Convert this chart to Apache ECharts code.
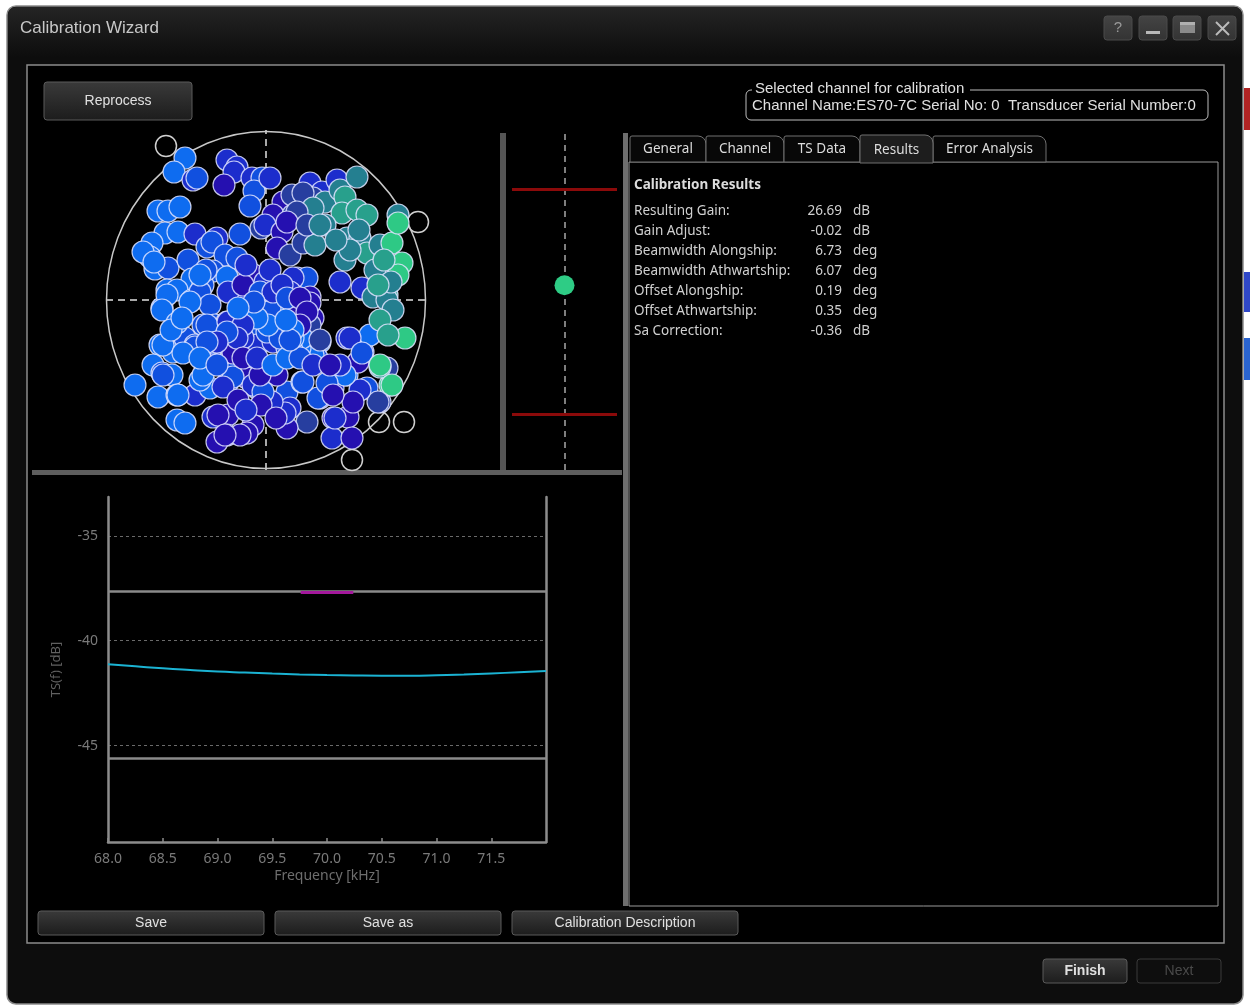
<!DOCTYPE html>
<html><head><meta charset="utf-8">
<script src="https://cdn.jsdelivr.net/npm/echarts/dist/echarts.min.js"></script>
<style>html,body{margin:0;padding:0;background:#fff;}#c{width:1250px;height:1008px;}</style>
</head><body><div id="c"></div>
<script>
// ---------- DATA ----------
// beam-angle offsets of accepted targets [alongship, athwartship, colour class]
const scatterPoints = [
[-81,142,0],[-92,128,0],[-73,120,2],[-69,122,1],[-39,140,2],[-29,133,2],[-32,128,2],[-42,115,3],[-14,122,2],[-4,122,1],[-12,109,1],[-16,94,1],
[-108,89,0],[-98,89,0],[-86,93,0],[-101,67,0],[-114,57,0],[-116,43,0],[-111,31,0],[-98,32,1],[-88,68,0],[-71,66,2],[-49,62,2],[-59,53,1],[-54,58,1],[-41,45,1],[-78,40,1],[-74,21,0],[-53,29,1],[-26,66,1],[-5,72,4],[-14,26,3],[-99,10,0],[-89,10,0],[-63,15,1],[-34,12,2],[-21,0,2],[-1,18,2],[-39,23,0],[1,5,1],[-123,48,0],[-112,38,0],
[-104,-8,0],[-91,-22,0],[-74,0,0],[-66,8,1],[-56,-5,1],[-38,8,2],[-63,-25,1],[-51,-25,1],[-39,-22,2],[-29,-25,1],[-19,-15,0],[-3,-8,1],[7,-12,0],[-6,-32,0],[-14,-35,1],[14,-27,1],[31,22,2],[42,2,3],[47,-18,3],[44,-25,4],
[-106,-45,0],[-93,-52,0],[-81,-38,1],[-71,-45,1],[-56,-52,2],[-33,-55,3],[-43,-42,1],[-9,-45,2],[7,-42,2],[21,-48,1],[31,-45,0],[37,-52,0],[54,-42,0],[51,-58,1],
[-113,-65,0],[-104,-73,1],[-94,-75,0],[-131,-85,0],[-108,-97,0],[-89,-95,0],[-71,-95,2],[-56,-88,0],[-66,-80,0],[-33,-73,1],[-38,-82,2],[-19,-78,3],[-3,-72,3],[-9,-88,1],[7,-102,2],[21,-92,1],[36,-82,0],[24,-108,2],[41,-122,4],[54,-98,2],[67,-88,2],[81,-75,0],
[81,-38,2],[97,-52,2],[104,-35,0],[92,-62,3],[101,-88,1],[114,-102,4],[124,-85,7],[121,-68,4],[114,-67,6],
[-89,-120,0],[-81,-123,0],[-53,-117,2],[-38,-115,3],[-13,-125,3],[-39,-135,3],[-49,-142,3],[-19,-133,3],[21,-128,3],[67,-118,3],[82,-117,3],[66,-138,2],[86,-138,3],
[4,122,2],[17,98,3],[7,85,3],[-1,75,2],[16,68,3],[11,52,3],[24,45,4],[27,85,4],[37,95,4],[44,117,2],[56,108,2],[47,102,4],[59,98,5],[71,120,2],[74,110,5],[91,123,5],[79,103,6],[76,87,6],[91,90,6],[101,85,6],[59,75,5],[37,57,4],[49,55,5],[81,62,5],[94,62,5],[101,47,6],[114,55,5],[126,57,7],[132,85,5],[132,77,7],[136,37,7],[132,25,7],[109,30,5],[79,40,5],[74,18,2],[96,12,2],[121,5,6],[107,3,5],[41,22,1],[27,22,2],[44,3,3],[4,30,2],[24,8,2],[14,12,2],
[121,0,5],[127,-10,5],[114,-20,6],[139,-38,7],[122,-35,6],[84,-38,2],[96,-53,1],[114,-65,7],[126,-85,7],[112,-102,4],[94,-90,2],[79,-75,0],[74,-65,2],[87,-102,3],[69,-118,2],[52,-98,1],[19,-113,2],[6,-102,2],[37,-82,1],[61,-83,1],[47,-55,0],[34,-48,0],[36,-38,0],[54,-40,4],[44,-3,3],[31,-8,3],[4,-8,1],[1,-32,1],[14,-28,2],[27,-52,0],[67,-95,3],[11,-75,3],
[-99,5,0],[-76,-2,0],[-104,-10,0],[-89,-23,0],[-59,-25,1],[-38,-22,2],[-18,-12,2],[-103,-45,0],[-71,-47,1],[-83,-53,0],[-33,-53,3],[-53,-43,1],[-103,-75,1],[-88,-95,0],[-63,-75,0],[-33,-77,1],[-13,-85,2],[-43,-87,2],[-48,-115,3],[-26,-135,3],[-41,-135,3],[-3,-92,1],[-6,-75,3],[-23,-38,2],
[-23,15,3],[-6,8,1],[7,8,2],[16,15,2],[21,2,1],[34,2,3],[41,-12,3],[34,-25,3],[27,-38,0],[14,-38,1],[2,-25,0],[-9,-18,0],[-23,-25,2],[-29,-38,2],[-39,-32,1],[-49,-42,2],[-59,-42,1],[-66,-58,0],[-49,-65,1],[-23,-58,3],[-9,-58,2],[7,-65,0],[21,-58,0],[34,-58,1],[47,-65,2],[64,-65,3],
[26,105,4],[37,107,4],[47,92,5],[31,88,4],[21,78,3],[41,75,4],[54,75,5],[-29,42,1],[-20,35,2],[27,-30,0],[24,-40,1],[20,-20,0],[-95,-30,0],[-84,-18,0],[-60,30,1],[-66,25,0],
[-28,-100,3],[-5,-105,3],[10,-118,3],[-20,-110,2],[118,40,6],[125,18,5],[112,15,6],[84,50,5],[93,70,5],[70,60,5],[-12,-2,1],[-28,-8,0]
];
const rejectedPoints = [[-100,154],[152,78],[113,-122],[138,-122],[86,-160]];
const beamHalf = [159.5, 168.5];
const gainDot = [[0, 0.29]];
const gainLimits = [2, -2];
const freqKHz = [68.0,68.25,68.5,68.75,69.0,69.25,69.5,69.75,70.0,70.25,70.5,70.75,71.0,71.25,71.5,71.75,72.0];
const tsDb    = [-41.12,-41.22,-41.32,-41.40,-41.47,-41.52,-41.57,-41.61,-41.64,-41.66,-41.67,-41.67,-41.65,-41.61,-41.56,-41.51,-41.45];
const tsLimitLines = [-37.66, -45.62];
const pinkFreq = [69.76, 70.24];
const pinkTs = [-37.7, -37.7];
const tabNames = ['General','Channel','TS Data','Results','Error Analysis'];
const resultLabels = ['Resulting Gain:','Gain Adjust:','Beamwidth Alongship:','Beamwidth Athwartship:','Offset Alongship:','Offset Athwartship:','Sa Correction:'];
const resultValues = [26.69,-0.02,6.73,6.07,0.19,0.35,-0.36];
const resultUnits = ['dB','dB','deg','deg','deg','deg','dB'];

// ---------- STYLE ----------
const palette = ['#0e6cf0','#1150df','#1c2dcc','#2510b0','#273e9f','#247f90','#28a08c','#2ec985'];
const UI = '"Liberation Sans", Arial, sans-serif';
const SEG = '"Noto Sans", "Open Sans", sans-serif';
const grad = (a,b)=>({type:'linear',x:0,y:0,x2:0,y2:1,colorStops:[{offset:0,color:a},{offset:1,color:b}]});
function txt(x,y,t,font,fill,align,z){return {type:'text',x:x,y:y,z:z||-1,silent:true,style:{text:t,font:font,fill:fill,align:align||'left',textAlign:align||'left',verticalAlign:'middle',textVerticalAlign:'middle'}};}
function rect(x,y,w,h,fill,stroke,lw,r,z){return {type:'rect',z:z||-4,silent:true,shape:{x:x,y:y,width:w,height:h,r:r||0},style:{fill:fill,stroke:stroke||null,lineWidth:lw||0}};}
function button(x,y,w,h,label,o){o=o||{};return [rect(x,y,w,h,o.fill||grad('#3a3a3a','#1c1c1c'),o.stroke||'#5a5a5a',1,3,-3),
  txt(x+w/2,y+h/2+0.5,label,(o.weight||'normal')+' '+(o.size||14)+'px '+UI,o.color||'#e0e0e0','center',-2)];}

const g = [];
g.push(rect(7,6,1236,998,'#0d0d0d','#8a8a8a',1.5,9,-9));
g.push(rect(8,7,1234,50,grad('#242424','#0d0d0d'),null,0,[8,8,0,0],-8));
g.push(txt(20,28,'Calibration Wizard','17px '+UI,'#c8c8c8','left',-2));
[1104,1139,1173,1208].forEach(x=>g.push(rect(x,16,28,24,grad('#444','#333'),'#4a4a4a',1,3,-3)));
g.push(txt(1118,28,'?','15px '+UI,'#9a9a9a','center',-2));
g.push(rect(1146,31,14,3,'#b8b8b8',null,0,0,-2));
g.push(rect(1180,22,15,11,'#8a8a8a',null,0,0,-2));
g.push(rect(1180,22,15,3,'#b0b0b0',null,0,0,-2));
g.push({type:'line',z:-2,silent:true,shape:{x1:1216,y1:22,x2:1229,y2:35},style:{stroke:'#bbb',lineWidth:2}});
g.push({type:'line',z:-2,silent:true,shape:{x1:1229,y1:22,x2:1216,y2:35},style:{stroke:'#bbb',lineWidth:2}});
// outside desktop bits
g.push(rect(1244,88,6,42,'#b02424',null,0,0,-9));
g.push(rect(1244,272,6,40,'#3048c8',null,0,0,-9));
g.push(rect(1244,338,6,42,'#2a64d0',null,0,0,-9));
// inner panel
g.push(rect(27,65,1197,878,'#000000','#8c8c8c',1.5,0,-7));
g.push(...button(44,82,148,38,'Reprocess'));
// group box
g.push(rect(746,90,462,30,null,'#bdbdbd',1,5,-4));
g.push(rect(752,82,218,14,'#000',null,0,0,-3));
g.push(txt(755,89,'Selected channel for calibration','15px '+UI,'#e0e0e0','left',-2));
g.push(txt(752,106,'Channel Name:ES70-7C Serial No: 0  Transducer Serial Number:0','15px '+UI,'#e0e0e0','left',-2));
// splitters
g.push(rect(32,470,590,5,'#5e5e5e',null,0,0,-3));
g.push(rect(500,133,6,337,'#555555',null,0,0,-3));
g.push(rect(623,133,5,773,'#6e6e6e',null,0,0,-3));
// tabs & content
g.push(rect(629,162,589,744,'#000','#9a9a9a',1,0,-5));
const tabX = [630,706,784,860,933], tabW = [76,78,76,73,113];
tabNames.forEach((t,i)=>{
  const sel = t==='Results';
  g.push(rect(tabX[i],sel?135:136,tabW[i],sel?28:26,sel?'#1d1d1d':'#080808','#707070',1,[2,8,0,0],sel?-3:-4));
  g.push(txt(tabX[i]+tabW[i]/2,sel?150:149,t,'13.5px '+SEG,'#dcdcdc','center',-2));
});
g.push(txt(634,185,'Calibration Results','bold 13.5px '+SEG,'#dcdcdc','left',-2));
resultLabels.forEach((l,i)=>{
  const y = 211+i*20;
  g.push(txt(634,y,l,'13.5px '+SEG,'#d0d0d0','left',-2));
  g.push(txt(842,y,resultValues[i].toFixed(2),'13.5px '+SEG,'#d0d0d0','right',-2));
  g.push(txt(853,y,resultUnits[i],'13.5px '+SEG,'#d0d0d0','left',-2));
});
// bottom buttons
g.push(...button(38,911,226,24,'Save'));
g.push(...button(275,911,226,24,'Save as'));
g.push(...button(512,911,226,24,'Calibration Description'));
g.push(...button(1043,959,84,24,'Finish',{weight:'bold'}));
g.push(...button(1137,959,84,24,'Next',{fill:'#0e0e0e',stroke:'#3a3a3a',color:'#4a4a4a'}));

const axisGray = '#8c8c8c';
const chart = echarts.init(document.getElementById('c'), null, {renderer:'canvas'});
chart.setOption({
  backgroundColor:'#ffffff',
  animation:false,
  graphic:{elements:g},
  grid:[
    {left:106, top:130, width:320, height:340},
    {left:512, top:133, width:105, height:337},
    {left:108, top:497, width:438, height:345}
  ],
  xAxis:[
    {gridIndex:0,type:'value',min:-beamHalf[0]-0.5,max:beamHalf[0]+0.5,show:false},
    {gridIndex:1,type:'value',min:-1,max:1,show:false},
    {gridIndex:2,type:'value',min:68,max:72,interval:0.5,
      axisLine:{lineStyle:{color:axisGray,width:2.5}},
      axisTick:{show:true,inside:true,length:4,lineStyle:{color:axisGray,width:1.5}},
      splitLine:{show:false},
      axisLabel:{color:'#7a7a7a',fontSize:14,fontFamily:'Noto Sans',margin:10,showMaxLabel:false,formatter:v=>v>=71.99?'':v.toFixed(1)},
      name:'Frequency [kHz]',nameLocation:'middle',nameGap:27,nameTextStyle:{color:'#6e6e6e',fontSize:14,fontFamily:'Noto Sans'}}
  ],
  yAxis:[
    {gridIndex:0,type:'value',min:-170,max:170,show:false},
    {gridIndex:1,type:'value',min:-3,max:3,show:false},
    {gridIndex:2,type:'value',min:-49.6,max:-33.15,minInterval:5,maxInterval:5,
      axisLine:{show:true,lineStyle:{color:axisGray,width:2.5}},
      axisTick:{show:false},
      splitLine:{show:true,showMinLine:false,showMaxLine:false,lineStyle:{color:'#6a6a6a',type:[3,3],width:1}},
      axisLabel:{color:'#7a7a7a',fontSize:14,fontFamily:'Noto Sans',margin:10,showMinLabel:false,showMaxLabel:false,
        formatter:v=>Math.abs(v%5)<1e-6?String(v):''},
      name:'TS(f) [dB]',nameLocation:'middle',nameGap:45,nameTextStyle:{color:'#606060',fontSize:13,fontFamily:'Noto Sans'}},
    {gridIndex:2,type:'value',position:'right',min:-49.6,max:-33.15,
      axisLine:{show:true,lineStyle:{color:axisGray,width:2.5}},axisTick:{show:false},axisLabel:{show:false},splitLine:{show:false}}
  ],
  series:[
    {type:'custom',xAxisIndex:0,yAxisIndex:0,z:1,silent:true,
      data:[[0,0,beamHalf[0],beamHalf[1]]],
      renderItem:function(p,api){
        const c = api.coord([api.value(0),api.value(1)]);
        const e = api.coord([api.value(0)+api.value(2),api.value(1)+api.value(3)]);
        const rx = e[0]-c[0], ry = c[1]-e[1];
        return {type:'circle',x:c[0],y:c[1],scaleY:ry/rx,shape:{cx:0,cy:0,r:rx},style:{fill:'none',stroke:'#c8c8c8',lineWidth:1.5}};
      }},
    {type:'scatter',xAxisIndex:0,yAxisIndex:0,z:2,silent:true,symbolSize:21,
      data:rejectedPoints,
      itemStyle:{color:'rgba(0,0,0,0)',borderColor:'#d0d0d0',borderWidth:1.5,opacity:1},
      markLine:{silent:true,z:1,symbol:['none','none'],label:{show:false},
        lineStyle:{color:'#a8a8a8',type:[7,5],width:2},
        data:[{xAxis:0},{yAxis:0}]}},
    {type:'scatter',xAxisIndex:0,yAxisIndex:0,z:3,silent:true,symbolSize:22,
      data:scatterPoints,
      itemStyle:{color:p=>palette[p.value[2]],borderColor:'rgba(225,228,255,0.85)',borderWidth:1.2,opacity:1}},
    {type:'scatter',xAxisIndex:1,yAxisIndex:1,z:3,silent:true,symbolSize:20,
      data:gainDot,itemStyle:{color:'#2ecc85',opacity:1},
      markLine:{silent:true,z:1,symbol:['none','none'],label:{show:false},
        data:[{xAxis:0,lineStyle:{color:'#a8a8a8',type:[6,5],width:1.5}}].concat(
          gainLimits.map(v=>({yAxis:v,lineStyle:{color:'#8b0a0a',type:'solid',width:3}})))}},
    {type:'line',xAxisIndex:2,yAxisIndex:2,z:3,silent:true,smooth:true,showSymbol:false,symbol:'none',
      data:freqKHz.map((f,i)=>[f,tsDb[i]]),
      lineStyle:{color:'#1bb3d3',width:2},
      markLine:{silent:true,z:2,symbol:['none','none'],label:{show:false},
        lineStyle:{color:'#8a8a8a',type:'solid',width:2.5},
        data:tsLimitLines.map(v=>({yAxis:v}))}},
    {type:'line',xAxisIndex:2,yAxisIndex:2,z:4,silent:true,showSymbol:false,symbol:'none',
      data:pinkFreq.map((f,i)=>[f,pinkTs[i]]),
      lineStyle:{color:'#a3189c',width:3}}
  ]
});
</script></body></html>
